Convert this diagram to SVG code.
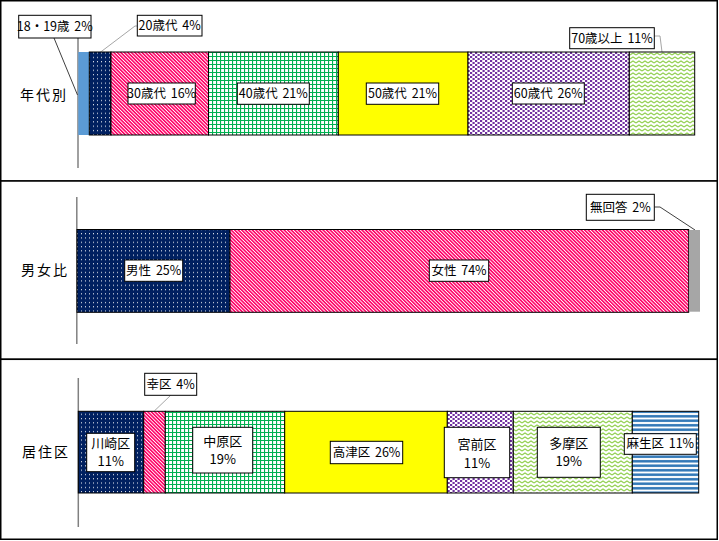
<svg xmlns="http://www.w3.org/2000/svg" width="719" height="541" viewBox="0 0 719 541">
<style>
.panel{fill:#fff;stroke:#000;stroke-width:1.5}
.seg{stroke:#000;stroke-width:1}
.axis{stroke:#808080;stroke-width:1.5;fill:none}
.lead{stroke:#404040;stroke-width:1;fill:none}
.leadg{stroke:#a6a6a6;stroke-width:1;fill:none}
.box{fill:#fff;stroke:#000;stroke-width:1}
.lbl{font-family:"Noto Sans CJK JP","Liberation Sans",sans-serif;font-size:12.5px;fill:#000;text-anchor:middle;word-spacing:2px}
.lbl2{font-family:"Noto Sans CJK JP","Liberation Sans",sans-serif;font-size:13px;fill:#000;text-anchor:middle}
.cat{font-family:"Noto Sans CJK JP","Liberation Sans",sans-serif;font-size:14px;fill:#000;letter-spacing:2px}
</style>
<defs>
<pattern id="navyDots" patternUnits="userSpaceOnUse" width="4" height="4.3">
<rect width="4" height="4.3" fill="#002060"/>
<rect x="1" y="1" width="1" height="1" fill="#fff"/>
</pattern>
<pattern id="crimson" patternUnits="userSpaceOnUse" width="2.5" height="2.5" patternTransform="rotate(-45)">
<rect width="2.5" height="2.5" fill="#fff"/>
<rect width="1.6" height="2.5" fill="#ff0066"/>
</pattern>
<pattern id="greenGrid" patternUnits="userSpaceOnUse" width="4" height="4">
<rect width="4" height="4" fill="#fff"/>
<path d="M0.5,0 V4 M0,0.5 H4" stroke="#00b050" stroke-width="1.2"/>
</pattern>
<pattern id="purple" patternUnits="userSpaceOnUse" width="5" height="4">
<rect width="5" height="4" fill="#fff"/>
<rect x="0" y="0" width="2.2" height="2" fill="#7030a0"/>
<rect x="2.5" y="2" width="2.2" height="2" fill="#7030a0"/>
</pattern>
<pattern id="zigzag" patternUnits="userSpaceOnUse" width="6" height="4">
<rect width="6" height="4" fill="#fff"/>
<path d="M0,3 L3,1 L6,3" stroke="#92d050" stroke-width="1.1" fill="none"/>
</pattern>
<pattern id="blueStripes" patternUnits="userSpaceOnUse" width="4" height="4.5">
<rect width="4" height="4.5" fill="#fff"/>
<rect y="1" width="4" height="2.5" fill="#2e75b6"/>
</pattern>
</defs>

<g id="panels">
<rect class="panel" x="0.75" y="0.75" width="716.5" height="180.25"/>
<rect class="panel" x="0.75" y="181" width="716.5" height="178.3"/>
<rect class="panel" x="0.75" y="359.3" width="716.5" height="179.95"/>
</g>

<g id="axes">
<line class="axis" x1="78" y1="38" x2="78" y2="168"/>
<line class="axis" x1="76.8" y1="197" x2="76.8" y2="344"/>
<line class="axis" x1="78.3" y1="378" x2="78.3" y2="527"/>
</g>

<g id="connectors">
<polyline class="lead" points="54,38 77.5,95"/>
<polyline class="leadg" points="137.3,26 135,26 100,52.5"/>
<polyline class="leadg" points="654.3,36 660,36 662,52"/>
<polyline class="lead" points="654.3,207 660,207 695,230"/>
<polyline class="leadg" points="170.7,395.3 154.3,411"/>
</g>

<g id="row-age">
<text class="cat" x="20" y="100">年代別</text>
<g id="age-18-19"><rect x="78.3" y="52" width="11" height="83" fill="#5b9bd5"/></g>
<g id="age-20"><rect class="seg" x="89.3" y="52" width="21.7" height="83" fill="url(#navyDots)"/></g>
<g id="age-30"><rect class="seg" x="111" y="52" width="97.5" height="83" fill="url(#crimson)"/></g>
<g id="age-40"><rect class="seg" x="208.5" y="52" width="129.8" height="83" fill="url(#greenGrid)"/></g>
<g id="age-50"><rect class="seg" x="338.3" y="52" width="129.7" height="83" fill="#ffff00"/></g>
<g id="age-60"><rect class="seg" x="468" y="52" width="161.3" height="83" fill="url(#purple)"/></g>
<g id="age-70"><rect class="seg" x="629.3" y="52" width="65.4" height="83" fill="url(#zigzag)"/></g>

<g id="lbl-18-19"><rect class="box" x="18.7" y="15.3" width="72.3" height="22.7"/><text class="lbl" x="54.8" y="31">18・19歳 2%</text></g>
<g id="lbl-20"><rect class="box" x="137.3" y="15.3" width="64.7" height="20.7"/><text class="lbl" x="169.6" y="30">20歳代 4%</text></g>
<g id="lbl-30"><rect class="box" x="128" y="83" width="67.3" height="21"/><text class="lbl" x="161.6" y="97.8">30歳代 16%</text></g>
<g id="lbl-40"><rect class="box" x="237.3" y="83" width="72" height="21.3"/><text class="lbl" x="273.3" y="98">40歳代 21%</text></g>
<g id="lbl-50"><rect class="box" x="366.3" y="83" width="72.4" height="21.3"/><text class="lbl" x="402.5" y="98">50歳代 21%</text></g>
<g id="lbl-60"><rect class="box" x="512.3" y="83" width="72" height="21"/><text class="lbl" x="548.3" y="98">60歳代 26%</text></g>
<g id="lbl-70"><rect class="box" x="569.7" y="27.7" width="84.6" height="21"/><text class="lbl" x="612" y="42.5">70歳以上 11%</text></g>
</g>

<g id="row-gender">
<text class="cat" x="21" y="275">男女比</text>
<g id="male"><rect class="seg" x="77" y="229.5" width="153" height="82.8" fill="url(#navyDots)"/></g>
<g id="female"><rect class="seg" x="230" y="229.5" width="458.7" height="82.8" fill="url(#crimson)"/></g>
<g id="noanswer"><rect x="689" y="230" width="11" height="81.7" fill="#a6a6a6"/></g>
<g id="lbl-male"><rect class="box" x="124.7" y="260" width="58" height="21.3"/><text class="lbl" x="153.7" y="275">男性 25%</text></g>
<g id="lbl-female"><rect class="box" x="429.3" y="260" width="59.4" height="21.3"/><text class="lbl" x="459" y="275">女性 74%</text></g>
<g id="lbl-noanswer"><rect class="box" x="586.3" y="194.3" width="68" height="26"/><text class="lbl" x="620.3" y="211.8">無回答 2%</text></g>
</g>

<g id="row-ward">
<text class="cat" x="22" y="456.5">居住区</text>
<g id="kawasaki"><rect class="seg" x="78.3" y="411.3" width="65.4" height="81.7" fill="url(#navyDots)"/></g>
<g id="saiwai"><rect class="seg" x="143.7" y="411.3" width="21.6" height="81.7" fill="url(#crimson)"/></g>
<g id="nakahara"><rect class="seg" x="165.3" y="411.3" width="119.4" height="81.7" fill="url(#greenGrid)"/></g>
<g id="takatsu"><rect class="seg" x="284.7" y="411.3" width="162.6" height="81.7" fill="#ffff00"/></g>
<g id="miyamae"><rect class="seg" x="447.3" y="411.3" width="66" height="81.7" fill="url(#purple)"/></g>
<g id="tama"><rect class="seg" x="513.3" y="411.3" width="119" height="81.7" fill="url(#zigzag)"/></g>
<g id="asao"><rect class="seg" x="632.3" y="411.3" width="66.4" height="81.7" fill="url(#blueStripes)"/></g>

<g id="lbl-kawasaki"><rect class="box" x="86.7" y="433.3" width="48" height="38.4"/><text class="lbl2" x="110.7" y="448">川崎区</text><text class="lbl2" x="110.7" y="466.3">11%</text></g>
<g id="lbl-saiwai"><rect class="box" x="144.7" y="373.3" width="52" height="22"/><text class="lbl" x="170.7" y="388.8">幸区 4%</text></g>
<g id="lbl-nakahara"><rect class="box" x="192.7" y="427.3" width="60" height="45.7"/><text class="lbl2" x="222.7" y="445.6">中原区</text><text class="lbl2" x="222.7" y="464.3">19%</text></g>
<g id="lbl-takatsu"><rect class="box" x="330.3" y="441.3" width="72.4" height="22.4"/><text class="lbl" x="366.5" y="456.8">高津区 26%</text></g>
<g id="lbl-miyamae"><rect class="box" x="444.3" y="427.3" width="65.4" height="50.4"/><text class="lbl2" x="477" y="448.9">宮前区</text><text class="lbl2" x="477" y="468.3">11%</text></g>
<g id="lbl-tama"><rect class="box" x="537.3" y="427.3" width="63" height="50"/><text class="lbl2" x="568.8" y="448.3">多摩区</text><text class="lbl2" x="568.8" y="466.3">19%</text></g>
<g id="lbl-asao"><rect class="box" x="624.3" y="433.7" width="72" height="20.6"/><text class="lbl" x="660.3" y="448.3">麻生区 11%</text></g>
</g>
</svg>
